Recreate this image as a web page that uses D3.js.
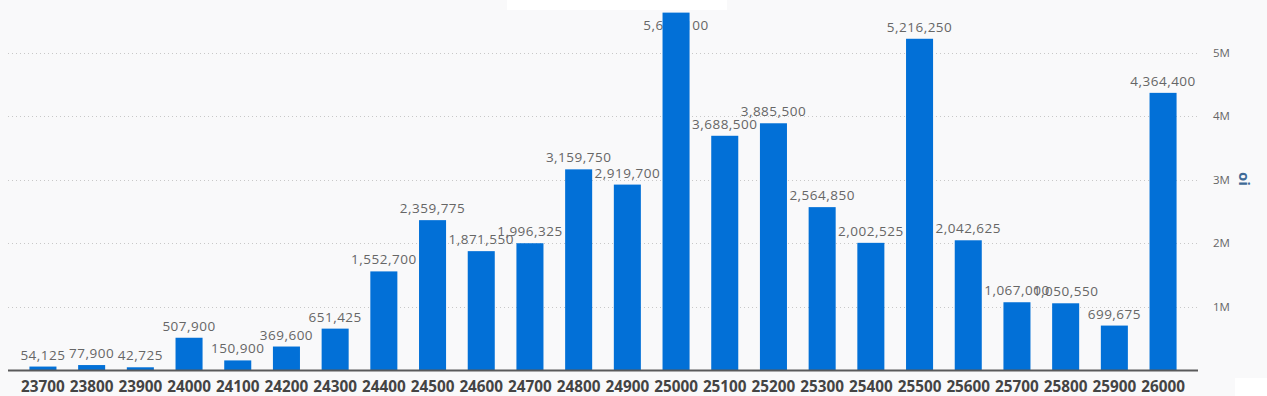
<!DOCTYPE html>
<meta charset="utf-8">
<style>
  body { margin: 0; background: #f9f9fa; }
  svg { display: block; font-family: "Open Sans", sans-serif; }
  .grid line { stroke: #c8c8c8; stroke-dasharray: 1,3; }
  .vlabel { fill: #666; font-size: 13.5px; letter-spacing: 0.5px; }
  .xlabel { fill: #444; font-size: 15.3px; font-weight: bold; }
  .ytick { fill: #666; font-size: 11.5px; }
</style>
<body>
<script src="https://d3js.org/d3.v7.min.js"></script>
<script>

var strikes = ["23700", "23800", "23900", "24000", "24100", "24200", "24300", "24400",
               "24500", "24600", "24700", "24800", "24900", "25000", "25100", "25200",
               "25300", "25400", "25500", "25600", "25700", "25800", "25900", "26000"];

var oi = [54125, 77900, 42725, 507900, 150900, 369600, 651425, 1552700,
          2359775, 1871550, 1996325, 3159750, 2919700, 5628100, 3688500, 3885500,
          2564850, 2002525, 5216250, 2042625, 1067000, 1050550, 699675, 4364400];

var yTicks = [1000000, 2000000, 3000000, 4000000, 5000000];
var yTickLabels = ["1M", "2M", "3M", "4M", "5M"];

var width = 1267, height = 396;

var svg = d3.select("body").append("svg")
    .attr("width", width)
    .attr("height", height);

var x = d3.scaleBand()
    .domain(strikes)
    .range([8, 1198])
    .paddingInner(0.445)
    .paddingOuter(0.44);

var y = d3.scaleLinear()
    .domain([0, 5000000])
    .range([370, 52.5]);

// white patches from the screenshot
svg.append("rect").attr("x", 507).attr("y", 0).attr("width", 220).attr("height", 10).attr("fill", "#fff");
svg.append("rect").attr("x", 1235).attr("y", 378).attr("width", 32).attr("height", 18).attr("fill", "#fff");

// gridlines
svg.append("g").attr("class", "grid")
  .selectAll("line")
  .data(yTicks)
  .enter().append("line")
    .attr("x1", 8).attr("x2", 1198)
    .attr("y1", function(d) { return Math.round(y(d)) + 0.5; })
    .attr("y2", function(d) { return Math.round(y(d)) + 0.5; });

svg.append("g")
  .selectAll("text")
  .data(yTicks)
  .enter().append("text")
    .attr("class", "ytick")
    .attr("x", 1213)
    .attr("y", function(d) { return y(d) + 4; })
    .text(function(d, i) { return yTickLabels[i]; });

svg.append("text")
    .attr("transform", "translate(1239,179) rotate(90)")
    .attr("text-anchor", "middle")
    .attr("fill", "#3f6a96")
    .attr("font-size", "15px")
    .attr("font-weight", "bold")
    .text("oi");

// value labels go under the bars
svg.append("g")
  .selectAll("text")
  .data(oi)
  .enter().append("text")
    .attr("class", "vlabel")
    .attr("text-anchor", "middle")
    .attr("x", function(d, i) { return x(strikes[i]) + x.bandwidth() / 2; })
    .attr("y", function(d) { return Math.max(y(d) - 7, 30); })
    .text(function(d) { return d3.format(",")(d); });

svg.append("g")
  .selectAll("rect")
  .data(oi)
  .enter().append("rect")
    .attr("fill", "#0270d7")
    .attr("x", function(d, i) { return x(strikes[i]); })
    .attr("width", x.bandwidth())
    .attr("y", function(d) { return y(d); })
    .attr("height", function(d) { return y(0) - y(d); });

svg.append("line")
    .attr("x1", 8).attr("x2", 1198)
    .attr("y1", 370.5).attr("y2", 370.5)
    .attr("stroke", "#5a5a5a")
    .attr("stroke-width", 2);

svg.append("g")
  .selectAll("text")
  .data(strikes)
  .enter().append("text")
    .attr("class", "xlabel")
    .attr("text-anchor", "middle")
    .attr("x", function(d) { return x(d) + x.bandwidth() / 2; })
    .attr("y", 392)
    .text(function(d) { return d; });

</script>
